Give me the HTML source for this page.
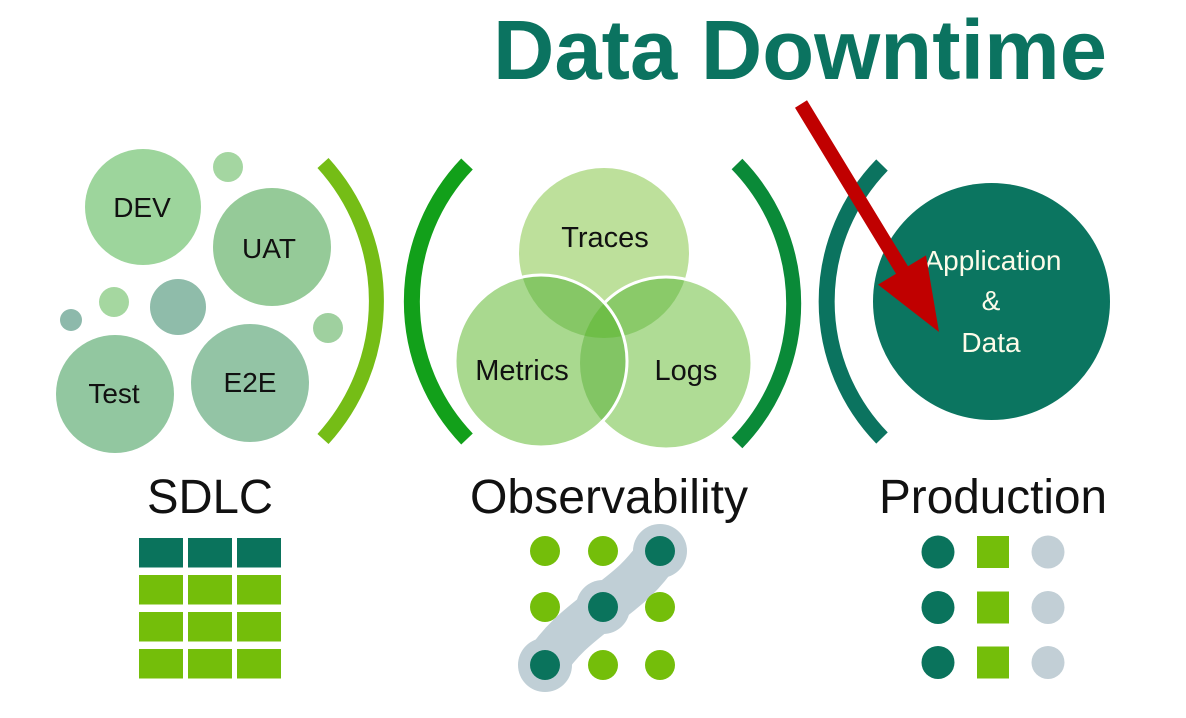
<!DOCTYPE html>
<html>
<head>
<meta charset="utf-8">
<style>
html,body{margin:0;padding:0;background:#fff;}
svg{display:block;}
text{font-family:"Liberation Sans",Arial,sans-serif;}
</style>
</head>
<body>
<svg width="1186" height="718" viewBox="0 0 1186 718" xmlns="http://www.w3.org/2000/svg">
<defs>
  <clipPath id="cT"><circle cx="604" cy="253" r="85"/></clipPath>
  <clipPath id="cM"><circle cx="541" cy="361" r="86"/></clipPath>
  <clipPath id="cL"><circle cx="666" cy="363" r="86"/></clipPath>
  <mask id="notM">
    <rect x="0" y="0" width="1186" height="718" fill="#fff"/>
    <circle cx="541" cy="361" r="86" fill="#000"/>
  </mask>
</defs>

<!-- Title -->
<text x="493" y="79" font-size="84" font-weight="bold" fill="#0b7360" textLength="614" lengthAdjust="spacingAndGlyphs">Data Downtime</text>

<!-- SDLC bubbles -->
<circle cx="143" cy="207" r="58" fill="#9dd59c"/>
<circle cx="228" cy="167" r="15" fill="#a4d6a1"/>
<circle cx="272" cy="247" r="59" fill="#95ca98"/>
<circle cx="114" cy="302" r="15" fill="#a5d7a0"/>
<circle cx="178" cy="307" r="28" fill="#8fbcaa"/>
<circle cx="71" cy="320" r="11" fill="#8db9ab"/>
<circle cx="328" cy="328" r="15" fill="#9fd09f"/>
<circle cx="115" cy="394" r="59" fill="#92c7a0"/>
<circle cx="250" cy="383" r="59" fill="#93c4a5"/>
<text x="142" y="217" font-size="28" text-anchor="middle" fill="#111">DEV</text>
<text x="269" y="258" font-size="28" text-anchor="middle" fill="#111">UAT</text>
<text x="114" y="403" font-size="28" text-anchor="middle" fill="#111">Test</text>
<text x="250" y="392" font-size="28" text-anchor="middle" fill="#111">E2E</text>

<!-- Arcs -->
<path d="M 323 163 A 205 205 0 0 1 323 439" fill="none" stroke="#75bd16" stroke-width="15"/>
<path d="M 467 164 A 199 199 0 0 0 467 439" fill="none" stroke="#12a01a" stroke-width="16"/>
<path d="M 737 164 A 200 200 0 0 1 737 443" fill="none" stroke="#0a8a38" stroke-width="15"/>
<path d="M 882 165 A 196 196 0 0 0 882 438" fill="none" stroke="#0b735f" stroke-width="16"/>

<!-- Venn -->
<circle cx="604" cy="253" r="85" fill="#bde09b"/>
<circle cx="666" cy="363" r="86" fill="#afdc95"/>
<circle cx="541" cy="361" r="86" fill="#a9d98f"/>
<circle cx="541" cy="361" r="86" fill="#86c766" clip-path="url(#cT)"/>
<circle cx="666" cy="363" r="86" fill="#8aca69" clip-path="url(#cT)"/>
<circle cx="666" cy="363" r="86" fill="#82c564" clip-path="url(#cM)"/>
<g clip-path="url(#cT)">
  <circle cx="666" cy="363" r="86" fill="#6fbe48" clip-path="url(#cM)"/>
</g>
<circle cx="666" cy="363" r="86" fill="none" stroke="#fff" stroke-width="3" mask="url(#notM)"/>
<circle cx="541" cy="361" r="86" fill="none" stroke="#fff" stroke-width="3"/>
<text x="605" y="247" font-size="29" text-anchor="middle" fill="#111">Traces</text>
<text x="522" y="380" font-size="29" text-anchor="middle" fill="#111">Metrics</text>
<text x="686" y="380" font-size="29" text-anchor="middle" fill="#111">Logs</text>

<!-- Production circle -->
<circle cx="991.5" cy="301.5" r="118.5" fill="#0b7560"/>
<text x="993" y="270" font-size="28" text-anchor="middle" fill="#fdfbe9">Application</text>
<text x="991" y="310" font-size="28" text-anchor="middle" fill="#fdfbe9">&amp;</text>
<text x="991" y="352" font-size="28" text-anchor="middle" fill="#fdfbe9">Data</text>

<!-- Red arrow -->
<polygon points="795,107.7 807,100.3 908,266.3 926,255.4 939,332 878,284.6 896,273.7" fill="#c00000"/>

<!-- Labels -->
<text x="147" y="513" font-size="48" fill="#111" textLength="126" lengthAdjust="spacingAndGlyphs">SDLC</text>
<text x="470" y="513" font-size="48" fill="#111" textLength="278" lengthAdjust="spacingAndGlyphs">Observability</text>
<text x="879" y="513" font-size="48" fill="#111" textLength="228" lengthAdjust="spacingAndGlyphs">Production</text>

<!-- SDLC grid -->
<g fill="#0a735c">
  <rect x="139" y="538" width="44" height="29.5"/>
  <rect x="188" y="538" width="44" height="29.5"/>
  <rect x="237" y="538" width="44" height="29.5"/>
</g>
<g fill="#74be0a">
  <rect x="139" y="575" width="44" height="29.5"/>
  <rect x="188" y="575" width="44" height="29.5"/>
  <rect x="237" y="575" width="44" height="29.5"/>
  <rect x="139" y="612" width="44" height="29.5"/>
  <rect x="188" y="612" width="44" height="29.5"/>
  <rect x="237" y="612" width="44" height="29.5"/>
  <rect x="139" y="649" width="44" height="29.5"/>
  <rect x="188" y="649" width="44" height="29.5"/>
  <rect x="237" y="649" width="44" height="29.5"/>
</g>

<!-- Observability dots -->
<path d="M 545 665 C 560 640, 580 625, 603 607 S 640 580, 660 551" fill="none" stroke="#c0cfd6" stroke-width="44" stroke-linejoin="round" stroke-linecap="round"/>
<circle cx="545" cy="665" r="27" fill="#c0cfd6"/>
<circle cx="603" cy="607" r="27" fill="#c0cfd6"/>
<circle cx="660" cy="551" r="27" fill="#c0cfd6"/>
<g fill="#74be0a">
  <circle cx="545" cy="551" r="15"/>
  <circle cx="603" cy="551" r="15"/>
  <circle cx="545" cy="607" r="15"/>
  <circle cx="660" cy="607" r="15"/>
  <circle cx="603" cy="665" r="15"/>
  <circle cx="660" cy="665" r="15"/>
</g>
<g fill="#0a735c">
  <circle cx="660" cy="551" r="15"/>
  <circle cx="603" cy="607" r="15"/>
  <circle cx="545" cy="665" r="15"/>
</g>

<!-- Production icons -->
<g fill="#0a735c">
  <circle cx="938" cy="552" r="16.5"/>
  <circle cx="938" cy="607.5" r="16.5"/>
  <circle cx="938" cy="662.5" r="16.5"/>
</g>
<g fill="#74be0a">
  <rect x="977" y="536" width="32" height="32"/>
  <rect x="977" y="591.5" width="32" height="32"/>
  <rect x="977" y="646.5" width="32" height="32"/>
</g>
<g fill="#c2cfd6">
  <circle cx="1048" cy="552" r="16.5"/>
  <circle cx="1048" cy="607.5" r="16.5"/>
  <circle cx="1048" cy="662.5" r="16.5"/>
</g>
</svg>
</body>
</html>
